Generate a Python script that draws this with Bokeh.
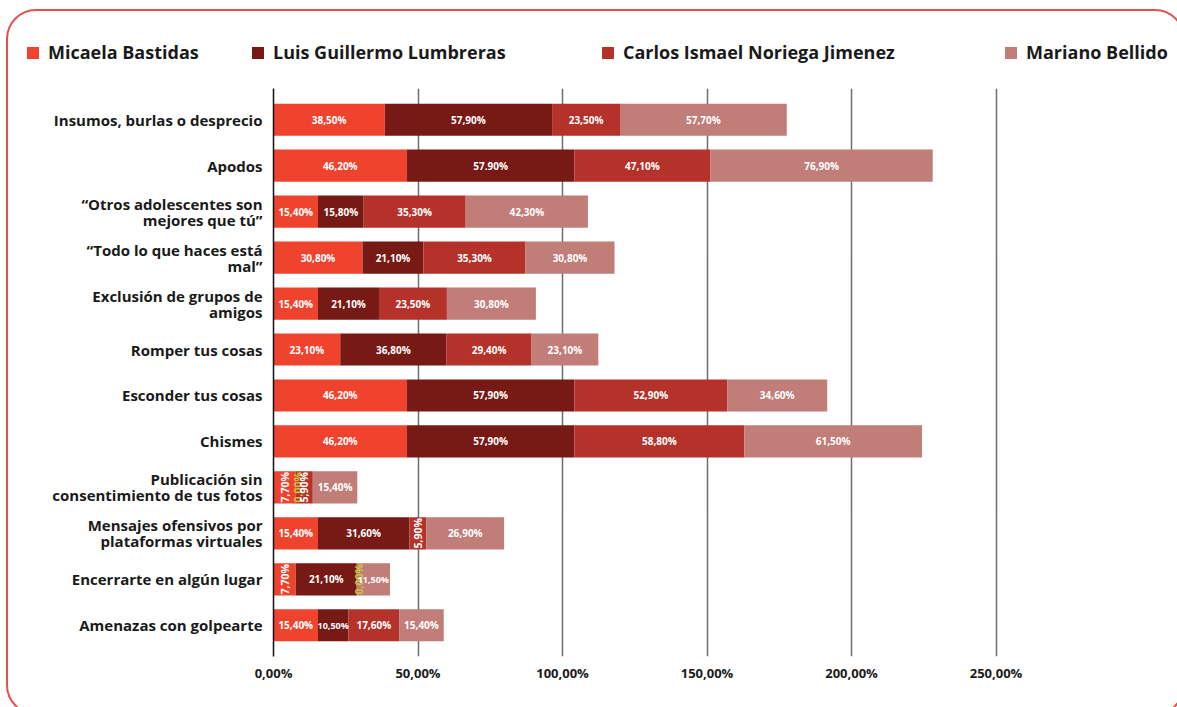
import math
from bokeh.plotting import figure
from bokeh.layouts import column
from bokeh.models import (ColumnDataSource, FactorRange, Range1d, FixedTicker, Legend, LegendItem,
                          InlineStyleSheet)
from bokeh.core.properties import value
from bokeh.embed import file_html
from bokeh.resources import INLINE

# ---------------- data ----------------
categories = [
    "Insumos, burlas o desprecio",
    "Apodos",
    "“Otros adolescentes son\nmejores que tú”",
    "“Todo lo que haces está\nmal”",
    "Exclusión de grupos de\namigos",
    "Romper tus cosas",
    "Esconder tus cosas",
    "Chismes",
    "Publicación sin\nconsentimiento de tus fotos",
    "Mensajes ofensivos por\nplataformas virtuales",
    "Encerrarte en algún lugar",
    "Amenazas con golpearte",
]
series_names = ["Micaela Bastidas", "Luis Guillermo Lumbreras",
                "Carlos Ismael Noriega Jimenez", "Mariano Bellido"]
micaela = [38.5, 46.2, 15.4, 30.8, 15.4, 23.1, 46.2, 46.2, 7.7, 15.4, 7.7, 15.4]
luis    = [57.9, 57.9, 15.8, 21.1, 21.1, 36.8, 57.9, 57.9, 0.0, 31.6, 21.1, 10.5]
carlos  = [23.5, 47.1, 35.3, 35.3, 23.5, 29.4, 52.9, 58.8, 5.9, 5.9, 0.0, 17.6]
mariano = [57.7, 76.9, 42.3, 30.8, 30.8, 23.1, 34.6, 61.5, 15.4, 26.9, 11.5, 15.4]
luis_labels = ["57,90%", "57.90%", "15,80%", "21,10%", "21,10%", "36,80%", "57,90%",
               "57,90%", "0,00%", "31,60%", "21,10%", "10,50%"]
x_ticks = [0, 50, 100, 150, 200, 250]
x_tick_labels = ["0,00%", "50,00%", "100,00%", "150,00%", "200,00%", "250,00%"]

colors = ["#ef432e", "#771a15", "#b5322a", "#c17d78"]
FONT = "Open Sans"
TOP_H = 88

def fmt(v):
    return f"{v:.2f}".replace(".", ",") + "%"

series_vals = [micaela, luis, carlos, mariano]
series_labels = [[fmt(v) for v in micaela], luis_labels,
                 [fmt(v) for v in carlos], [fmt(v) for v in mariano]]

data = {"cat": categories}
for name, vals in zip(series_names, series_vals):
    data[name] = vals
source = ColumnDataSource(data)

# ---------------- legend strip ----------------
top = figure(width=1177, height=TOP_H, output_backend="svg", toolbar_location=None,
             x_range=Range1d(0, 1), y_range=Range1d(0, 1),
             x_axis_location=None, y_axis_location=None, min_border=0,
             min_border_left=0, min_border_right=0, min_border_top=0, min_border_bottom=0)
top.outline_line_color = None
top.grid.visible = False
# off-screen stand-in renderers, used only to draw the legend swatches
dummy = ColumnDataSource(dict(y=[-5.0], l=[-5.0], r=[-4.0]))
leg_x = [25, 250, 600, 1003]
for name, c, lxp in zip(series_names, colors, leg_x):
    r = top.hbar(y="y", left="l", right="r", height=0.5, color=c, line_color=None, source=dummy)
    lg = Legend(items=[LegendItem(label=name, renderers=[r])], location=(lxp, 24),
                orientation="horizontal", padding=0, margin=0, spacing=0,
                glyph_width=15, glyph_height=15, label_standoff=8,
                border_line_color=None, background_fill_alpha=0,
                label_text_font=FONT, label_text_font_style="bold",
                label_text_font_size="18px", label_text_color="#1a1a1a")
    top.add_layout(lg, "center")

# ---------------- main chart ----------------
p = figure(width=1177, height=707 - TOP_H, output_backend="svg", toolbar_location=None,
           y_range=FactorRange(factors=list(reversed(categories)), range_padding=0.03),
           x_range=Range1d(0, 300),
           min_border_left=273, min_border_right=37, min_border_top=0, min_border_bottom=51)
p.outline_line_color = None
p.background_fill_color = "white"
p.border_fill_color = "white"

for f in (top, p):
    if "frame_align" in f.properties():
        f.frame_align = False

p.hbar_stack(series_names, y="cat", height=0.7, color=colors, line_color=None, source=source)

# labels on segments
lx, ly, lt, la, lc, ls = [], [], [], [], [], []
for i, cat in enumerate(categories):
    start = 0.0
    for vals, labs in zip(series_vals, series_labels):
        v = vals[i]
        vertical = v < 10
        lx.append(start + v / 2 + (0.8 if v == 0 else 0.0))
        ly.append(cat)
        lt.append(labs[i])
        la.append(math.pi / 2 if vertical else 0.0)
        lc.append("#cbc43c" if v == 0 else "white")
        ls.append("10.5px" if vertical else ("9px" if v < 12 else "10px"))
        start += v
lab_src = ColumnDataSource(dict(x=lx, y=ly, t=lt, a=la, c=lc, s=ls))
p.text(x="x", y="y", text="t", angle="a", text_color="c", text_font_size="s",
       text_font=value(FONT), text_font_style="bold", text_align="center",
       text_baseline="middle", source=lab_src)

# axes
p.xaxis.ticker = FixedTicker(ticks=x_ticks)
p.xaxis.major_label_overrides = {t: l for t, l in zip(x_ticks, x_tick_labels)}
p.xaxis.axis_line_color = None
p.xaxis.major_tick_line_color = None
p.xaxis.minor_tick_line_color = None
p.xaxis.major_tick_out = 0
p.xaxis.minor_tick_out = 0
p.xaxis.major_label_text_font = FONT
p.xaxis.major_label_text_font_style = "bold"
p.xaxis.major_label_text_font_size = "13px"
p.xaxis.major_label_text_color = "#1a1a1a"
p.xaxis.major_label_standoff = 7

p.yaxis.axis_line_color = "#111111"
p.yaxis.axis_line_width = 1.5
p.yaxis.major_tick_line_color = None
p.yaxis.minor_tick_line_color = None
p.yaxis.major_tick_out = 0
p.yaxis.minor_tick_out = 0
p.yaxis.major_label_text_font = FONT
p.yaxis.major_label_text_font_style = "bold"
p.yaxis.major_label_text_font_size = "15px"
p.yaxis.major_label_text_line_height = 0.8
p.yaxis.major_label_text_color = "#1a1a1a"
p.yaxis.major_label_standoff = 11

p.ygrid.grid_line_color = None
p.xgrid.ticker = FixedTicker(ticks=x_ticks)
p.xgrid.grid_line_color = "#6e6e6e"
p.xgrid.grid_line_width = 1.5

border_css = InlineStyleSheet(css="""
:host { position: relative; overflow: hidden; }
:host::after { content: ""; position: absolute; left: 6px; top: 9px; width: 1179px; height: 706px;
  border: 2.5px solid #e4504f; border-radius: 30px; box-sizing: border-box;
  pointer-events: none; z-index: 10; }
""")
layout = column(top, p, spacing=0, stylesheets=[border_css])

open("out.html", "w").write(file_html(layout, INLINE))
